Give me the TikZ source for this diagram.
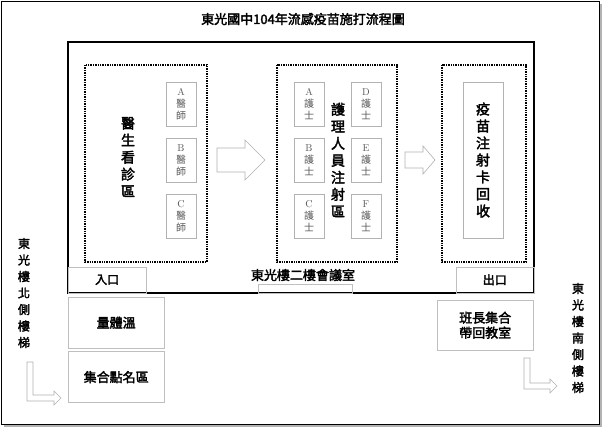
\documentclass[tikz,border=0pt]{standalone}
\usepackage{fontspec}
\newfontfamily\cjk{Noto Sans CJK TC}
\newfontfamily\cjkb[FakeBold=2.5]{Noto Sans CJK TC}
\usetikzlibrary{positioning}
\tikzset{
  dotbox/.style={draw, densely dotted, line width=1.4pt},
  staffbox/.style={draw=gray!60, fill=white, minimum width=30pt, minimum height=44pt, inner sep=1pt, align=center, font=\cjk\fontsize{10}{12}\selectfont, text=gray!70!black},
  roombox/.style={draw=gray!50, align=center, font=\cjkb\fontsize{13}{15}\selectfont},
  vtext/.style={align=center, font=\cjkb\fontsize{14}{17}\selectfont},
  hollow/.style={draw=gray!60, fill=white, line width=0.6pt}
}
\begin{document}
\begin{tikzpicture}[x=1pt,y=-1pt]
      \useasboundingbox (0,0) rectangle (604,429);
      % frame with shadow
      \fill[gray!60] (4,4) rectangle (602,427);
      \draw[fill=white, line width=0.6pt] (1,1) rectangle (599,424);
      \node[font=\cjkb\fontsize{13}{15}\selectfont] (title) at (303,19) {東光國中104年流感疫苗施打流程圖};

      % main room
      \draw[line width=1.6pt] (68,42) rectangle (534,293);
      \node[draw=gray!50, minimum width=78pt, minimum height=26pt, anchor=south west] (in) at (68,293) {};
      \node[font=\cjkb\fontsize{12}{14}\selectfont] at (in) {入口};
      \node[draw=gray!50, minimum width=78pt, minimum height=26pt, anchor=south east] (out) at (534,293) {};
      \node[font=\cjkb\fontsize{12}{14}\selectfont] at (out) {出口};
      \node[draw=gray!50, minimum width=94pt, minimum height=9pt, anchor=south] (door) at (305,293) {};
      \node[font=\cjkb\fontsize{13}{15}\selectfont] (room) at (303,275) {東光樓二樓會議室};

      % doctors
      \draw[dotbox] (85,65) rectangle (207,262);
      \node[vtext] (doc) at (128,157) {醫\\生\\看\\診\\區};
      \node[staffbox] (da) at (181,104) {\rmfamily A\\醫\\師};
      \node[staffbox] (db) at (181,160) {\rmfamily B\\醫\\師};
      \node[staffbox] (dc) at (181,216) {\rmfamily C\\醫\\師};

      % nurses
      \draw[dotbox] (277,65) rectangle (397,262);
      \node[vtext] (nurse) at (338,160) {護\\理\\人\\員\\注\\射\\區};
      \node[staffbox] (na) at (309,104) {\rmfamily A\\護\\士};
      \node[staffbox] (nb) at (309,160) {\rmfamily B\\護\\士};
      \node[staffbox] (nc) at (309,216) {\rmfamily C\\護\\士};
      \node[staffbox] (nd) at (366,104) {\rmfamily D\\護\\士};
      \node[staffbox] (ne) at (366,160) {\rmfamily E\\護\\士};
      \node[staffbox] (nf) at (366,216) {\rmfamily F\\護\\士};

      % card return
      \draw[dotbox] (442,65) rectangle (526,262);
      \node[staffbox, minimum width=40pt, minimum height=156pt] (card) at (483,160) {};
      \node[vtext] at (card) {疫\\苗\\注\\射\\卡\\回\\收};

      % flow arrows
      \draw[hollow] (217,148) -- (245,148) -- (245,140) -- (265,160) -- (245,180) -- (245,172) -- (217,172) -- cycle;
      \draw[hollow] (405,152) -- (423,152) -- (423,146) -- (435,160) -- (423,174) -- (423,168) -- (405,168) -- cycle;

      % outside
      \node[roombox, minimum width=96pt, minimum height=51pt, anchor=north west] (temp) at (68,297) {量體溫};
      \node[roombox, minimum width=96pt, minimum height=51pt, below=3pt of temp] (roll) {集合點名區};
      \node[roombox, minimum width=96pt, minimum height=50pt, anchor=north west] (lead) at (437,300) {班長集合\\帶回教室};

      % stairs
      \node[vtext, font=\cjkb\fontsize{12}{16.5}\selectfont] (north) at (24,293) {東\\光\\樓\\北\\側\\樓\\梯};
      \node[vtext, font=\cjkb\fontsize{12}{16.5}\selectfont] (south) at (578,338) {東\\光\\樓\\南\\側\\樓\\梯};
      \draw[hollow] (27,362) -- (33,362) -- (33,395) -- (54,395) -- (54,391) -- (61,398) -- (54,405) -- (54,401) -- (27,401) -- cycle;
      \draw[hollow] (524,358) -- (530,358) -- (530,383) -- (550,383) -- (550,379) -- (557,386) -- (550,393) -- (550,389) -- (524,389) -- cycle;
\end{tikzpicture}
\end{document}
